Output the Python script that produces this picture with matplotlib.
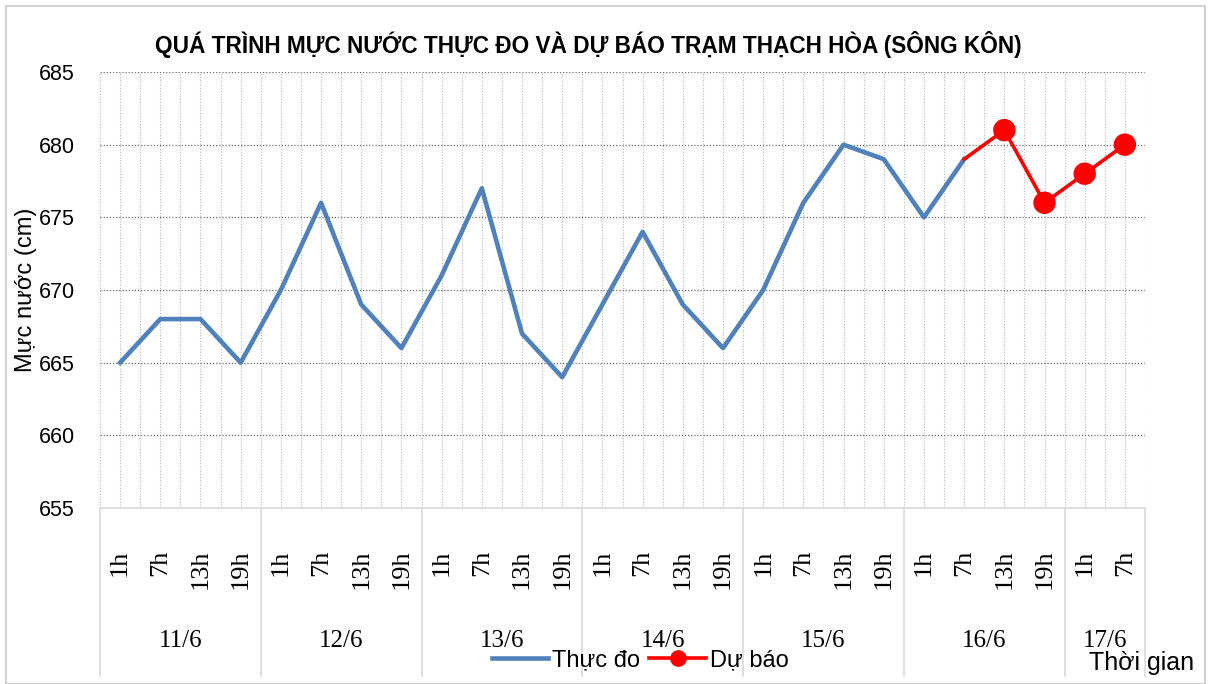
import matplotlib
matplotlib.use('Agg')
import matplotlib.pyplot as plt
from matplotlib.lines import Line2D
from matplotlib.patches import Rectangle
import matplotlib.transforms as mtransforms
import numpy as np

plt.rcParams['font.family'] = ['Liberation Sans', 'DejaVu Sans']

# data
days = ['11/6', '12/6', '13/6', '14/6', '15/6', '16/6', '17/6']
day_counts = [4, 4, 4, 4, 4, 4, 2]
hours = ['1h', '7h', '13h', '19h'] * 6 + ['1h', '7h']
observed = [665, 668, 668, 665, 670, 676, 669, 666, 671, 677, 667, 664,
            669, 674, 669, 666, 670, 676, 680, 679, 675, 679]
forecast_start = 21
forecast = [679, 681, 676, 678, 680]

BLUE = '#4F81BD'; RED = '#FF0000'
W, H = 1218, 684
fig = plt.figure(figsize=(W / 100, H / 100), dpi=100)
fig.patches.append(Rectangle((6 / W, 0), 1199 / W, (H - 6) / H, transform=fig.transFigure,
                             fill=False, edgecolor='#D0D0D0', lw=1.5))
ax = fig.add_axes([100 / W, (H - 508) / H, 1045 / W, (508 - 72) / H])

n = len(hours)
x_obs = np.arange(len(observed))
x_fc = np.arange(forecast_start, forecast_start + len(forecast))
ax.plot(x_obs, observed, color=BLUE, lw=3.3, zorder=3)
ax.plot(x_fc, forecast, color=RED, lw=2.6, zorder=4)
ax.scatter(x_fc[1:], forecast[1:], s=260, color=RED, zorder=5, edgecolors='none')

ax.set_xlim(-0.5, n - 0.5)
ax.set_ylim(655, 685)
ax.set_yticks(np.arange(655, 686, 5))
ax.set_xticks(np.arange(n))
ax.set_xticks(np.arange(n + 1) - 0.5, minor=True)
ax.set_xticklabels(hours, rotation=90, va='top', fontsize=19, family='Liberation Serif')
ax.tick_params(axis='x', which='both', length=0, pad=30)
ax.tick_params(axis='y', length=0, pad=18, labelsize=15.5)
ax.grid(axis='y', color='#707070', ls=(0, (1, 1.5)), lw=0.9)
ax.grid(axis='x', which='both', color='#B8B8B8', ls=(0, (1, 1.5)), lw=0.8)
for s in ['top', 'right', 'left']:
    ax.spines[s].set_visible(False)
ax.spines['bottom'].set_color('#D9D9D9')
ax.spines['bottom'].set_linewidth(1.2)

# day group labels and separators
trans = mtransforms.blended_transform_factory(ax.transData, ax.transAxes)
bounds = np.concatenate([[0], np.cumsum(day_counts)]) - 0.5
for i, d in enumerate(days):
    ax.text((bounds[i] + bounds[i + 1]) / 2, -0.305, d, transform=trans, ha='center', va='center',
            fontsize=18, family='Liberation Serif')
for b in bounds:
    ax.plot([b, b], [0, -0.385], transform=trans, color='#D9D9D9', lw=1.2, clip_on=False)

ax.set_ylabel('Mực nước (cm)', fontsize=17)
ax.yaxis.set_label_coords(-0.06, 0.5)

fig.text(588 / W, 1 - 45 / H, 'QUÁ TRÌNH MỰC NƯỚC THỰC ĐO VÀ DỰ BÁO TRẠM THẠCH HÒA (SÔNG KÔN)',
         ha='center', va='center', fontsize=16.3, fontweight='bold')
fig.text(1142 / W, 1 - 663 / H, 'Thời gian', ha='center', va='center', fontsize=18)

handles = [Line2D([], [], color=BLUE, lw=3.3),
           Line2D([], [], color=RED, lw=2.6, marker='o', markersize=11)]
fig.legend(handles, ['Thực đo', 'Dự báo'], loc='center', bbox_to_anchor=(640 / W, 1 - 660 / H),
           ncol=2, frameon=False, fontsize=17, handlelength=2.4, handletextpad=0.15,
           columnspacing=0.4, borderpad=0)

fig.savefig('out.png', dpi=100, facecolor='white')
